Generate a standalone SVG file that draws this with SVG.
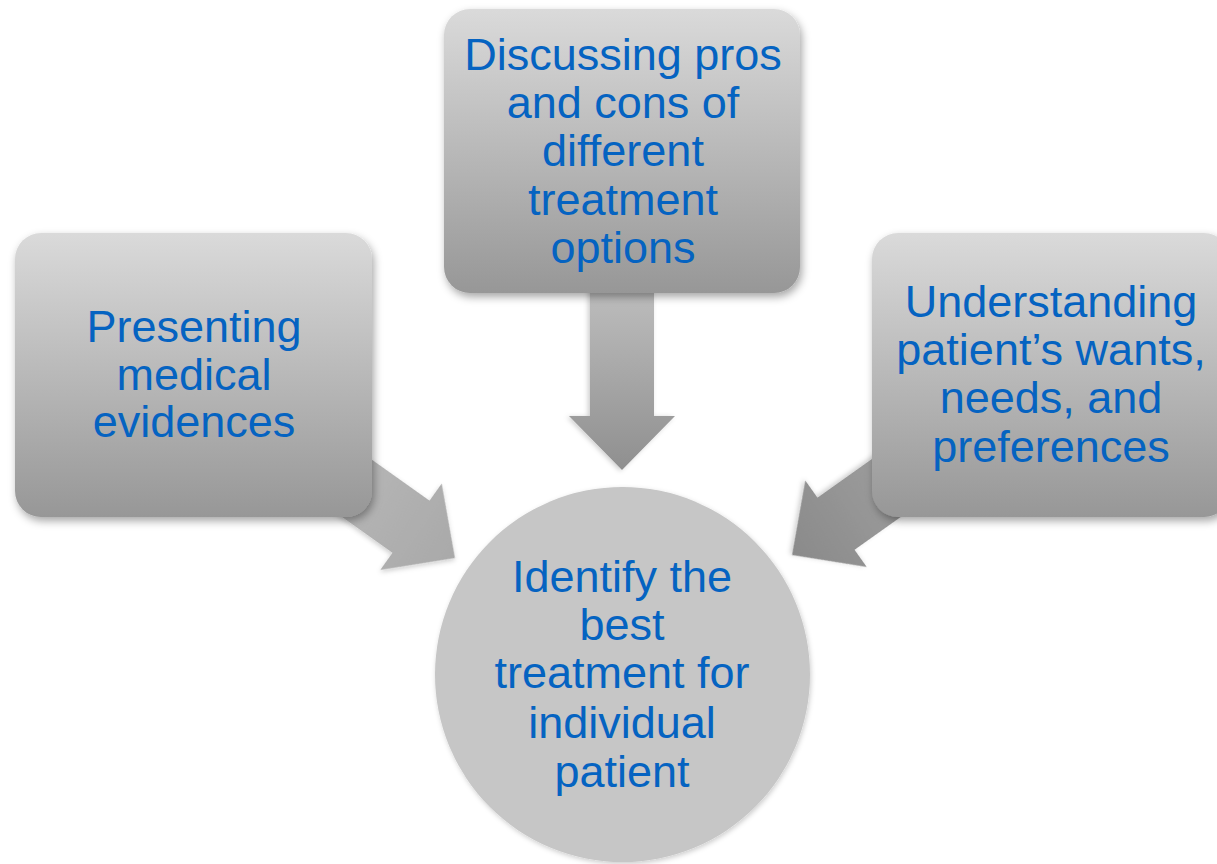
<svg xmlns="http://www.w3.org/2000/svg" width="1217" height="864" viewBox="0 0 1217 864">
  <style>
    .label { font-family: "Liberation Sans", Arial, Helvetica, sans-serif; font-size: 45px; fill: #0563C1; text-anchor: middle; }
    .box { fill: url(#boxFill); filter: url(#shadow); }
    .hub { fill: #c6c6c6; filter: url(#softShadow); }
  </style>
  <defs>
    <linearGradient id="boxFill" x1="0" y1="0" x2="0" y2="1">
      <stop offset="0" stop-color="#dadada"/>
      <stop offset="1" stop-color="#979797"/>
    </linearGradient>
    <linearGradient id="arrowDown" x1="0" y1="0" x2="1" y2="0">
      <stop offset="0" stop-color="#c2c2c2"/>
      <stop offset="1" stop-color="#8f8f8f"/>
    </linearGradient>
    <linearGradient id="arrowLeft" x1="0" y1="0" x2="1" y2="0">
      <stop offset="0" stop-color="#bcbcbc"/>
      <stop offset="1" stop-color="#a9a9a9"/>
    </linearGradient>
    <linearGradient id="arrowRight" x1="0" y1="0" x2="1" y2="0">
      <stop offset="0" stop-color="#a6a6a6"/>
      <stop offset="1" stop-color="#8a8a8a"/>
    </linearGradient>
    <filter id="shadow" x="-10%" y="-10%" width="125%" height="130%">
      <feDropShadow dx="2" dy="4" stdDeviation="4" flood-color="#000" flood-opacity="0.35"/>
    </filter>
    <filter id="softShadow" x="-10%" y="-10%" width="125%" height="130%">
      <feDropShadow dx="1" dy="2" stdDeviation="2.5" flood-color="#000" flood-opacity="0.2"/>
    </filter>
    <!-- block arrow pointing along +x, tip at the origin -->
    <path id="blockArrow" d="M0,0 L-54,-53 L-54,-32 L-200,-32 L-200,32 L-54,32 L-54,53 Z"/>
  </defs>

  <g id="connectors">
    <use href="#blockArrow" fill="url(#arrowDown)" filter="url(#softShadow)" transform="translate(622,470) rotate(90)"/>
    <use href="#blockArrow" fill="url(#arrowLeft)" filter="url(#softShadow)" transform="translate(455,558) rotate(35.4)"/>
    <use href="#blockArrow" fill="url(#arrowRight)" filter="url(#softShadow)" transform="translate(792,555) rotate(144.6)"/>
  </g>

  <g id="node-evidence">
    <rect class="box" x="15" y="233" width="357" height="284" rx="26"/>
    <text class="label" x="194" y="342">Presenting</text>
    <text class="label" x="194" y="390">medical</text>
    <text class="label" x="194" y="437">evidences</text>
  </g>

  <g id="node-options">
    <rect class="box" x="444" y="9" width="356" height="284" rx="26"/>
    <text class="label" x="623" y="70">Discussing pros</text>
    <text class="label" x="623" y="118">and cons of</text>
    <text class="label" x="623" y="166">different</text>
    <text class="label" x="623" y="215">treatment</text>
    <text class="label" x="623" y="263">options</text>
  </g>

  <g id="node-preferences">
    <rect class="box" x="872" y="233" width="358" height="284" rx="26"/>
    <text class="label" x="1051" y="317">Understanding</text>
    <text class="label" x="1051" y="365">patient’s wants,</text>
    <text class="label" x="1051" y="413">needs, and</text>
    <text class="label" x="1051" y="462">preferences</text>
  </g>

  <g id="node-best-treatment">
    <circle class="hub" cx="622.5" cy="674.5" r="187.5"/>
    <text class="label" x="622" y="592">Identify the</text>
    <text class="label" x="622" y="640">best</text>
    <text class="label" x="622" y="688">treatment for</text>
    <text class="label" x="622" y="738">individual</text>
    <text class="label" x="622" y="787">patient</text>
  </g>
</svg>
